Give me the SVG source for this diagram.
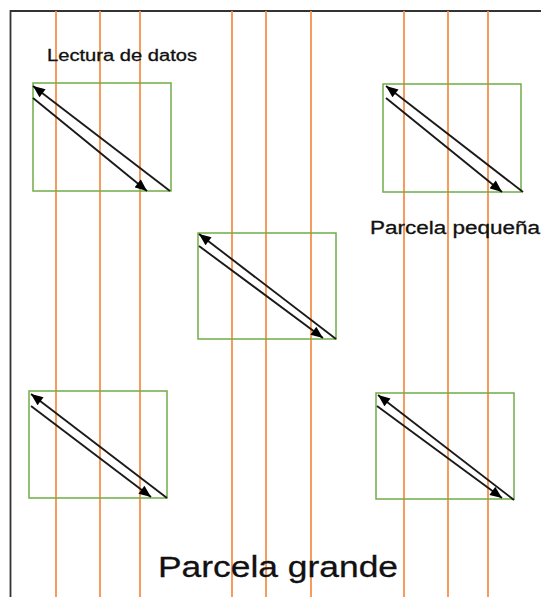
<svg xmlns="http://www.w3.org/2000/svg" width="541" height="597" viewBox="0 0 541 597">
<style>
.frame{stroke:#333;stroke-width:1.8;fill:none}
.row{stroke:#F5914A;stroke-width:1.8;fill:none}
.plot{stroke:#70AD47;stroke-width:1.5;fill:none}
.arr{stroke:#1a1a1a;stroke-width:1.9;fill:none}
.up{marker-start:url(#ah)}
.dn{marker-end:url(#ah)}
.lbl{font-family:"Liberation Sans",Arial,sans-serif;fill:#111;stroke:#111;stroke-width:0.3}
</style>
<defs>
<marker id="ah" viewBox="0 0 12 10" refX="12" refY="5" markerWidth="13" markerHeight="10" markerUnits="userSpaceOnUse" orient="auto-start-reverse">
<path d="M0,0 L12,5 L0,10 z" fill="#000"/>
</marker>
</defs>
<rect width="541" height="597" fill="#fff"/>
<g id="frame">
<path class="frame" d="M10.5,597 V11 H541"/>
</g>
<g id="rows">
<line class="row" x1="56" y1="11" x2="56" y2="597"/>
<line class="row" x1="100" y1="11" x2="100" y2="597"/>
<line class="row" x1="140" y1="11" x2="140" y2="597"/>
<line class="row" x1="232" y1="11" x2="232" y2="597"/>
<line class="row" x1="266" y1="11" x2="266" y2="597"/>
<line class="row" x1="311" y1="11" x2="311" y2="597"/>
<line class="row" x1="404" y1="11" x2="404" y2="597"/>
<line class="row" x1="448" y1="11" x2="448" y2="597"/>
<line class="row" x1="488" y1="11" x2="488" y2="597"/>
</g>
<g id="plot1"><rect class="plot" x="33" y="83" width="138" height="108"/></g>
<g id="plot2"><rect class="plot" x="383" y="84" width="138" height="108"/></g>
<g id="plot3"><rect class="plot" x="198" y="233" width="138" height="106"/></g>
<g id="plot4"><rect class="plot" x="29" y="391" width="138" height="107"/></g>
<g id="plot5"><rect class="plot" x="376" y="393" width="138" height="106"/></g>
<g id="connectors">
<line class="arr up" x1="33" y1="86" x2="170" y2="191"/>
<line class="arr dn" x1="33" y1="98" x2="147" y2="191"/>
<line class="arr up" x1="386" y1="86" x2="523" y2="192"/>
<line class="arr dn" x1="386" y1="98" x2="502" y2="192"/>
<line class="arr up" x1="199" y1="234" x2="336" y2="339"/>
<line class="arr dn" x1="199" y1="246" x2="323" y2="338"/>
<line class="arr up" x1="31" y1="394" x2="167" y2="498"/>
<line class="arr dn" x1="31" y1="406" x2="151" y2="497"/>
<line class="arr up" x1="378" y1="395" x2="514" y2="500"/>
<line class="arr dn" x1="377" y1="406" x2="502" y2="498"/>
</g>
<g id="labels">
<text class="lbl" x="47" y="61" font-size="16" textLength="150" lengthAdjust="spacingAndGlyphs">Lectura de datos</text>
<text class="lbl" x="370" y="234" font-size="18" textLength="170" lengthAdjust="spacingAndGlyphs">Parcela pequeña</text>
<text class="lbl" x="158" y="577" font-size="30" textLength="240" lengthAdjust="spacingAndGlyphs">Parcela grande</text>
</g>
</svg>
